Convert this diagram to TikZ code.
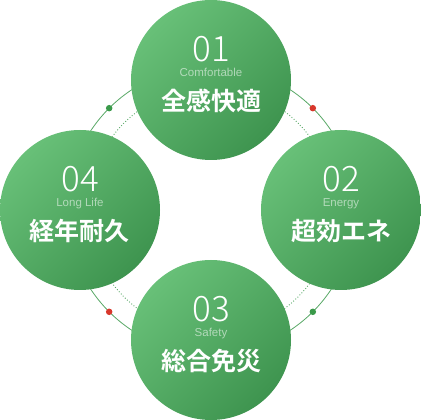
\documentclass[tikz,border=0pt]{standalone}
\usepackage{fontspec}
\usepackage{tikz}
\usetikzlibrary{calc}
\setmainfont{Noto Sans CJK JP}
\newfontfamily\jpfont{Noto Sans CJK JP}[BoldFont={Noto Sans CJK JP Bold}]
\newfontfamily\numfont{Noto Sans CJK JP Light}
\newfontfamily\subfont{Liberation Sans}
\definecolor{gLight}{RGB}{104,192,120}
\definecolor{gDark}{RGB}{62,148,79}
\definecolor{gLine}{RGB}{88,168,102}
\definecolor{gDot}{RGB}{58,154,74}
\definecolor{rDot}{RGB}{216,55,43}
\tikzset{
	disc/.style ={circle, minimum size=160pt, inner sep=0pt, top color=gLight, bottom color=gDark, shading angle=45},
	ring/.style ={draw=gLine, line width=0.8pt},
	dotring/.style={draw=gLine, line width=0.9pt, dotted},
	knot/.style ={circle, minimum size=6.5pt, inner sep=0pt},
	num/.style  ={anchor=base, text=white, font=\numfont\fontsize{35}{35}\selectfont, inner sep=0pt},
	sub/.style  ={anchor=base, text=white, text opacity=0.55, font=\subfont\fontsize{11.5}{11.5}\selectfont, inner sep=0pt},
	ttl/.style  ={anchor=base, text=white, font=\jpfont\bfseries\fontsize{25}{25}\selectfont, inner sep=0pt},
}
\begin{document}
\begin{tikzpicture}[x=1pt, y=1pt]
	\useasboundingbox (0,0) rectangle (421,420);
	\coordinate (ctr) at (211,210);
	% rings behind the four discs
	\draw[ring] (ctr) circle[radius=144];
	\draw[dotring] (ctr) circle[radius=123];
	\node[knot, fill=gDot] (k1) at ($(ctr)+(135:144)$) {};
	\node[knot, fill=rDot] (k2) at ($(ctr)+(45:144)$) {};
	\node[knot, fill=gDot] (k3) at ($(ctr)+(-45:144)$) {};
	\node[knot, fill=rDot] (k4) at ($(ctr)+(-135:144)$) {};
	% discs
	\node[disc] (c1) at (211,340) {};
	\node[disc] (c2) at (341,210) {};
	\node[disc] (c3) at (211,80) {};
	\node[disc] (c4) at (80,210) {};
	% texts
	\node[num] (n1) at ($(c1)+(0,18)$) {01};
	\node[sub] (s1) at ($(c1)+(0,3)$) {Comfortable};
	\node[ttl] (t1) at ($(c1)+(0,-31)$) {全感快適};
	\node[num] (n2) at ($(c2)+(0,18)$) {02};
	\node[sub] (s2) at ($(c2)+(0,3)$) {Energy};
	\node[ttl] (t2) at ($(c2)+(0,-31)$) {超効エネ};
	\node[num] (n3) at ($(c3)+(0,18)$) {03};
	\node[sub] (s3) at ($(c3)+(0,3)$) {Safety};
	\node[ttl] (t3) at ($(c3)+(0,-31)$) {総合免災};
	\node[num] (n4) at ($(c4)+(0,18)$) {04};
	\node[sub] (s4) at ($(c4)+(0,3)$) {Long Life};
	\node[ttl] (t4) at ($(c4)+(0,-31)$) {経年耐久};
\end{tikzpicture}
\end{document}
